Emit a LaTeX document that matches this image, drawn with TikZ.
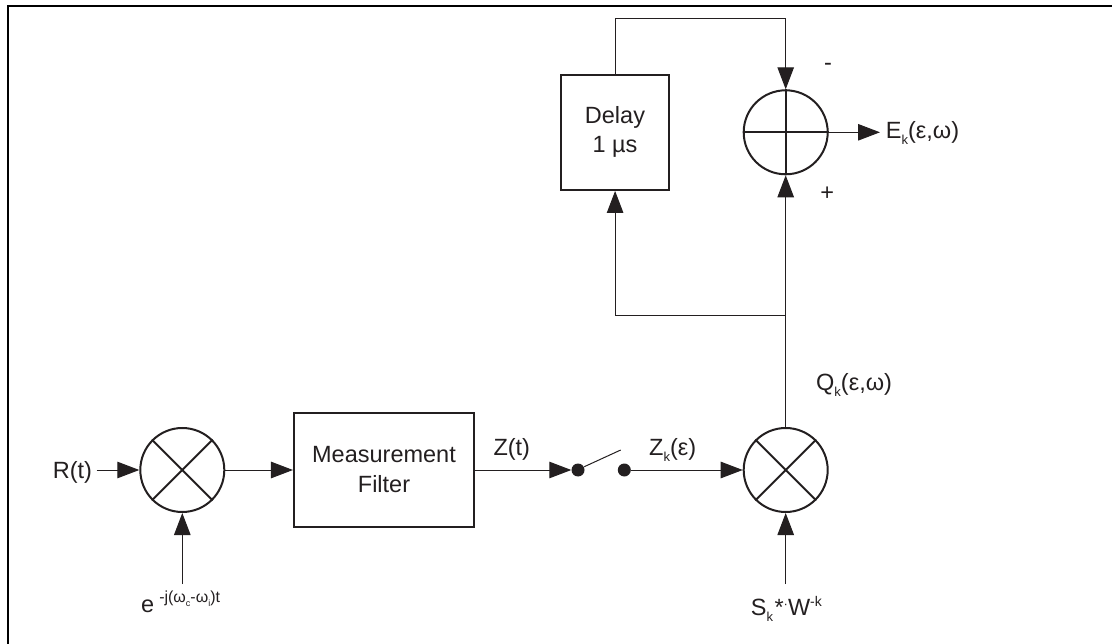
\documentclass[tikz,border=0pt]{standalone}
\usepackage{fontspec}
\setmainfont{Liberation Sans}
\usetikzlibrary{arrows.meta}
\definecolor{ink}{HTML}{231F20}
\newcommand{\subk}[1]{\raisebox{-6pt}{\fontsize{13}{13}\selectfont #1}}
\tikzset{
  x=1pt,y=-1pt,
  wire/.style={draw=ink,line width=1pt},
  arrowed/.style={wire,-{Triangle[length=22pt,width=16.5pt]}},
  blockbox/.style={draw=ink,line width=2pt,inner sep=0pt,align=center},
  ring/.style={circle,draw=ink,line width=2pt,minimum size=84pt,inner sep=0pt},
  cross/.style={draw=ink,line width=2pt},
  dot/.style={circle,fill=ink,minimum size=13pt,inner sep=0pt},
  txt/.style={inner sep=0pt,anchor=base west,text=ink,font=\fontsize{23.5}{30}\selectfont},
}
\begin{document}
\begin{tikzpicture}
\useasboundingbox (0,0) rectangle (1112,644);
\draw[black,line width=2.2pt] (8,644) -- (8,5.7) -- (1112,5.7);
% blocks
\node[ring] (m1) at (182.3,470) {};
\node[ring] (m2) at (785.7,470) {};
\node[ring] (sum) at (785.7,132.3) {};
\draw[cross] (m1.45) -- (m1.225) (m1.135) -- (m1.315);
\draw[cross] (m2.45) -- (m2.225) (m2.135) -- (m2.315);
\draw[cross] (sum.north) -- (sum.south) (sum.west) -- (sum.east);
\node[blockbox,minimum width=179.7pt,minimum height=114pt] (filt) at (383.8,470) {};
\node[blockbox,minimum width=107.7pt,minimum height=114.7pt] (delay) at (615.1,132.6) {};
\node[dot] (s1) at (578,470) {};
\node[dot] (s2) at (624.3,470) {};
% labels
\node[txt] (rt) at (52.7,478.3) {R(t)};
\node[txt,anchor=base] (meas) at (384,463) {Measurement};
\node[txt,anchor=base] (filter) at (384,493) {Filter};
\node[txt,anchor=base] (dl) at (615,124) {Delay};
\node[txt,anchor=base] (us) at (615,153) {1 µs};
\node[txt] (zt) at (493.3,455.7) {Z(t)};
\node[txt] (zk) at (649,455.7) {Z\subk{k}(ε)};
\node[txt] (qk) at (816,390.7) {Q\subk{k}(ε,ω)};
\node[txt] (ek) at (885.7,139) {E\subk{k}(ε,ω)};
\node[txt] (sk) at (750.7,615) {S\subk{k}\hspace{1.5pt}*\raisebox{7pt}{\fontsize{13}{13}\selectfont·}W\raisebox{9pt}{\fontsize{14}{14}\selectfont -k}};
\node[txt] (ee) at (141,612) {e\hspace{5pt}\raisebox{9.3pt}{\fontsize{16}{16}\selectfont -j(ω\raisebox{-4pt}{\fontsize{9}{9}\selectfont c}-ω\raisebox{-4pt}{\fontsize{9}{9}\selectfont i})t}};
\node[txt,anchor=center] (minus) at (828,66.5) {-};
\node[txt,anchor=center] (plus) at (827.3,194) {+};
% free ends
\coordinate (rin) at (96.7,470);
\coordinate (ein) at (182.3,584);
\coordinate (sin) at (785.7,584);
\coordinate (topl) at (615.1,19);
\coordinate (topr) at (785.7,19);
\coordinate (fbl) at (615.1,316);
\coordinate (fbr) at (785.7,316);
\coordinate (swa) at (584.3,466.7);
\coordinate (swb) at (620.7,450);
\coordinate (eout) at (880,132.3);
% connectors
\draw[arrowed] (rin) -- (m1.west);
\draw[arrowed] (ein) -- (m1.south);
\draw[arrowed] (m1.east) -- (filt.west);
\draw[arrowed] (filt.east) -- (s1.west);
\draw[wire] (swa) -- (swb);
\draw[arrowed] (s2.east) -- (m2.west);
\draw[arrowed] (sin) -- (m2.south);
\draw[wire] (m2.north) -- (fbr);
\draw[arrowed] (fbr) -- (sum.south);
\draw[arrowed] (fbr) -- (fbl) -- (delay.south);
\draw[wire] (delay.north) -- (topl) -- (topr);
\draw[arrowed] (topr) -- (sum.north);
\draw[arrowed] (sum.east) -- (eout);
\end{tikzpicture}
\end{document}
